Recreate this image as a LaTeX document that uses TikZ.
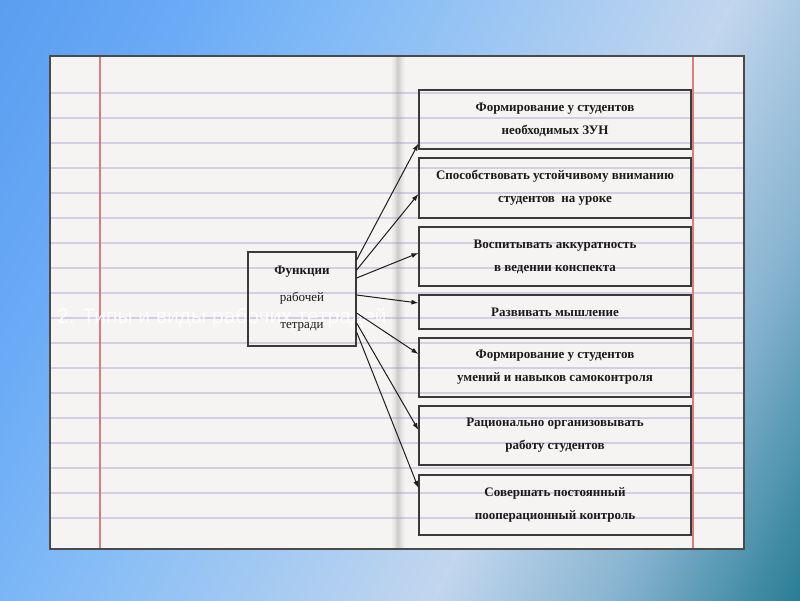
\documentclass[tikz,border=0pt]{standalone}
\usepackage{fontspec}
\setmainfont{Liberation Serif}
\newfontfamily\hidfont{Liberation Sans}
\usetikzlibrary{arrows.meta}
\definecolor{bgA}{HTML}{5A9EF0}
\definecolor{bgB}{HTML}{6AAAF6}
\definecolor{bgC}{HTML}{84BCF6}
\definecolor{bgD}{HTML}{C2D6EE}
\definecolor{bgE}{HTML}{88B4D0}
\definecolor{bgF}{HTML}{2A7E96}
\definecolor{paper}{HTML}{F5F4F2}
\definecolor{foldc}{HTML}{9A9A9A}
\definecolor{ruling}{HTML}{D5CDE2}
\definecolor{margin}{HTML}{D87C7C}
\definecolor{edge}{HTML}{4A4A4A}
\definecolor{boxc}{HTML}{3A3A3A}
\definecolor{arrc}{HTML}{1E1E1E}
\definecolor{txt}{HTML}{1A1A1A}
\pgfdeclarehorizontalshading{bgshade}{100bp}{color(0bp)=(bgA); color(16.5bp)=(bgA); color(27.7bp)=(bgB); color(38.8bp)=(bgC); color(61.2bp)=(bgD); color(72.1bp)=(bgE); color(83.5bp)=(bgF); color(100bp)=(bgF)}
\tikzset{
  fbox/.style={draw=boxc, line width=1.2pt, minimum width=272pt, align=center, inner sep=0pt,
    font=\bfseries\fontsize{13}{23}\selectfont, text=txt},
  mainbox/.style={draw=boxc, line width=1.2pt, minimum width=108pt, minimum height=94pt, align=center,
    inner sep=0pt, font=\fontsize{13}{27}\selectfont, text=txt},
  conn/.style={draw=arrc, line width=1pt, -{Latex[length=7pt,width=5pt]}},
  rule/.style={draw=ruling, line width=1.8pt},
  redline/.style={draw=margin, line width=1.1pt},
}
\begin{document}
\begin{tikzpicture}[x=1pt,y=-1pt]
\useasboundingbox (0,0) rectangle (800,600);
% background
\shade[shading=bgshade, shading angle=-26.57] (0,0) rectangle (800,600);
% notebook paper
\fill[paper] (50,56) rectangle (744,549);
\foreach \k in {0,...,17} {
  \draw[rule] (50,93+25*\k) -- (744,93+25*\k);
}
\draw[redline] (100,56) -- (100,549);
\draw[redline] (693,56) -- (693,549);
% centre fold: soft grey band
\foreach \dx/\op in {392/0.06,393/0.1,394/0.16,395/0.24,396/0.32,397/0.4,398/0.42,399/0.36,400/0.28,401/0.2,402/0.14,403/0.09,404/0.05} {
  \fill[foldc, opacity=\op] (\dx,56) rectangle (\dx+1,549);
}
\draw[edge, line width=1.6pt] (50,56) rectangle (744,549);
% faint title
\node[anchor=base west, inner sep=0pt, text=white, opacity=0.85,
  font=\hidfont\fontsize{21}{21}\selectfont] (title) at (57,323) {2. Типы и виды рабочих тетрадей};
% boxes
\node[mainbox] (L) at (302,299) {{\bfseries Функции}\\рабочей\\тетради};
\node[fbox, minimum height=59pt] (B1) at (555,119.5) {Формирование у студентов\\необходимых ЗУН};
\node[fbox, minimum height=60pt] (B2) at (555,188) {Способствовать устойчивому вниманию\\студентов\ \ на уроке};
\node[fbox, minimum height=59pt] (B3) at (555,256.5) {Воспитывать аккуратность\\в ведении конспекта};
\node[fbox, minimum height=34pt] (B4) at (555,312) {Развивать мышление};
\node[fbox, minimum height=59pt] (B5) at (555,367.5) {Формирование у студентов\\умений и навыков самоконтроля};
\node[fbox, minimum height=59pt] (B6) at (555,435.5) {Рационально организовывать\\работу студентов};
\node[fbox, minimum height=60pt] (B7) at (555,505) {Совершать постоянный\\пооперационный контроль};
% connectors
\draw[conn] ([yshift=39pt]L.east) -- ([yshift=6pt]B1.south west);
\draw[conn] ([yshift=29pt]L.east) -- ([yshift=-6pt]B2.west);
\draw[conn] ([yshift=21pt]L.east) -- ([yshift=3.5pt]B3.west);
\draw[conn] ([yshift=4pt]L.east) -- ([yshift=9pt]B4.west);
\draw[conn] ([yshift=-14pt]L.east) -- ([yshift=13.5pt]B5.west);
\draw[conn] ([yshift=-24pt]L.east) -- ([yshift=5.5pt]B6.west);
\draw[conn] ([yshift=-33pt]L.east) -- ([yshift=17pt]B7.west);
\end{tikzpicture}
\end{document}
